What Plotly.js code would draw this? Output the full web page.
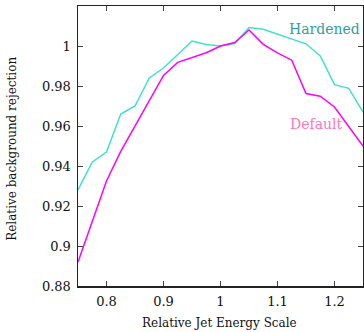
<!DOCTYPE html>
<html>
<head>
<meta charset="utf-8">
<script src="https://cdn.plot.ly/plotly-3.0.1.min.js"></script>
<style>
  html, body { margin: 0; padding: 0; background: #fff; }
  #chart { width: 364px; height: 332px; }
</style>
</head>
<body>
<div id="chart"></div>
<script>
// jet energy scale points
const jes = [0.75, 0.775, 0.8, 0.825, 0.85, 0.875, 0.9, 0.925, 0.95, 0.975, 1.0,
             1.025, 1.05, 1.075, 1.1, 1.125, 1.15, 1.175, 1.2, 1.225, 1.25];

const hardened = [0.928, 0.942, 0.947, 0.966, 0.970, 0.984, 0.989, 0.9955, 1.0025, 1.0007, 1.0,
                  1.0012, 1.0092, 1.0084, 1.006, 1.0035, 1.0011, 0.995, 0.9807, 0.9788, 0.9669];

const defaultRej = [0.892, 0.912, 0.9325, 0.9473, 0.960, 0.9724, 0.9853, 0.9918, 0.9943, 0.9966, 1.0,
                    1.0017, 1.008, 1.0008, 0.9966, 0.9929, 0.9762, 0.9749, 0.9695, 0.9599, 0.950];

const xTicks = [0.8, 0.9, 1.0, 1.1, 1.2];
const xTickText = ['0.8', '0.9', '1', '1.1', '1.2'];
const yTicks = [0.88, 0.9, 0.92, 0.94, 0.96, 0.98, 1.0, 1.02];
const yTickText = ['0.88', '0.9', '0.92', '0.94', '0.96', '0.98', '1', '1.02'];

const font = 'DejaVu Serif';

const traces = [
    {
        x: jes, y: hardened, name: 'Hardened',
        mode: 'lines', type: 'scatter',
        line: { color: '#40e0d0', width: 1.5 }
    },
    {
        x: jes, y: defaultRej, name: 'Default',
        mode: 'lines', type: 'scatter',
        line: { color: '#ff00ff', width: 1.5 }
    }
];

const axisCommon = {
    showline: true, linecolor: '#222', linewidth: 1.5, mirror: 'ticks',
    ticks: 'inside', ticklen: 5, tickwidth: 1, tickcolor: '#444',
    showgrid: false, zeroline: false, ticklabelstandoff: 3,
    tickfont: { family: font, size: 13, color: '#111' }
};

const layout = {
    width: 364, height: 332,
    margin: { l: 78, r: 1, t: 6, b: 46 },
    paper_bgcolor: '#fff', plot_bgcolor: '#fff',
    showlegend: false,
    font: { family: font, color: '#111' },
    xaxis: Object.assign({}, axisCommon, {
        range: [0.75, 1.25],
        tickvals: xTicks, ticktext: xTickText
    }),
    yaxis: Object.assign({}, axisCommon, {
        range: [0.88, 1.02],
        tickvals: yTicks, ticktext: yTickText
    }),
    annotations: [
        // axis titles placed by hand
        { x: 0.498, y: -0.132, xref: 'paper', yref: 'paper', xanchor: 'center', yanchor: 'middle',
          text: 'Relative Jet Energy Scale',
          showarrow: false, font: { family: font, size: 12, color: '#111' } },
        { x: -0.2316, y: 0.49, xref: 'paper', yref: 'paper', xanchor: 'center', yanchor: 'middle',
          text: 'Relative background rejection',
          textangle: -90, showarrow: false, font: { family: font, size: 12, color: '#111' } },
        // series labels
        { x: 1.182, y: 1.0085, xref: 'x', yref: 'y', text: 'Hardened', showarrow: false,
          font: { family: font, size: 14, color: '#339e99' } },
        { x: 1.168, y: 0.961, xref: 'x', yref: 'y', text: 'Default', showarrow: false,
          font: { family: font, size: 14, color: '#ff77bb' } }
    ]
};

Plotly.newPlot('chart', traces, layout, { displayModeBar: false, staticPlot: true });
</script>
</body>
</html>
